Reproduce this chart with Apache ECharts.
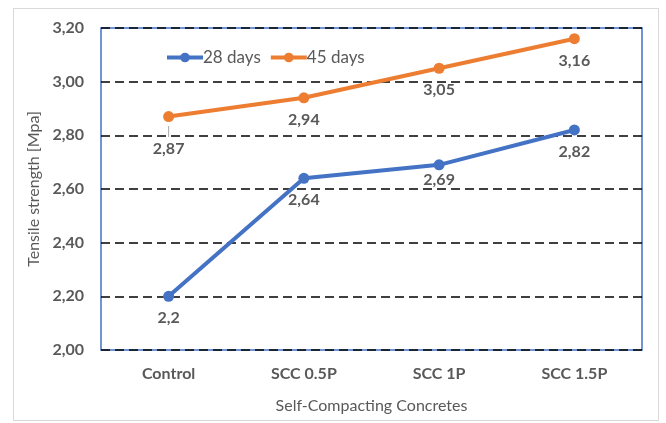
<!DOCTYPE html>
<html>
<head>
<meta charset="utf-8">
<script src="https://cdn.jsdelivr.net/npm/echarts@6/dist/echarts.min.js"></script>
<style>
  html, body { margin: 0; padding: 0; background: #fff; }
  #chart { width: 666px; height: 423px; }
  .frame { position: absolute; left: 13px; top: 8px; width: 646px; height: 413px; border: 1px solid #d9d9d9; box-sizing: border-box; pointer-events: none; }
</style>
</head>
<body>
<div id="chart"></div>
<div class="frame"></div>
<script>
const categories = ['Control', 'SCC 0.5P', 'SCC 1P', 'SCC 1.5P']
const days28 = [2.2, 2.64, 2.69, 2.82]
const days45 = [2.87, 2.94, 3.05, 3.16]
const days28Labels = ['2,2', '2,64', '2,69', '2,82']
const days45Labels = ['2,87', '2,94', '3,05', '3,16']

const font = 'Lato, "Open Sans", sans-serif'
const textColor = '#595959'

const chart = echarts.init(document.getElementById('chart'))

const makeSeries = (name, values, labels, color) => ({
  name,
  type: 'line',
  data: values.map((v, i) => ({
    value: v,
    label: { formatter: labels[i] }
  })),
  symbol: 'circle',
  symbolSize: 11,
  lineStyle: { color, width: 4 },
  itemStyle: { color },
  label: {
    show: true,
    position: 'bottom',
    distance: 8,
    color: textColor,
    fontFamily: font,
    fontWeight: 'bold',
    fontSize: 16,
    lineHeight: 17,
    rich: {
      lead: { width: 1, height: 11, backgroundColor: '#a6a6a6' }
    }
  }
})

const s28 = makeSeries('28 days', days28, days28Labels, '#4472C4')
// Excel tucked this one closer to the point
s28.data[2].label.distance = 1

const s45 = makeSeries('45 days', days45, days45Labels, '#ED7D31')
// first label pushed below the gridline, with a short leader line
s45.data[0].label.distance = 1
s45.data[0].label.formatter = '{lead|}\n' + days45Labels[0]

chart.setOption({
  backgroundColor: '#fff',
  animation: false,
  legend: {
    data: ['28 days', '45 days'],
    left: 160,
    top: 44,
    itemWidth: 36,
    itemHeight: 12,
    itemGap: 8,
    lineStyle: { width: 4 },
    textStyle: { color: textColor, fontFamily: font, fontSize: 17, padding: [0, 0, 0, -5] }
  },
  grid: {
    left: 101,
    right: 24,
    top: 28,
    bottom: 73,
    show: true,
    borderColor: '#4472C4',
    borderWidth: 1.5,
    backgroundColor: 'transparent'
  },
  xAxis: {
    type: 'category',
    data: categories,
    boundaryGap: true,
    name: 'Self-Compacting Concretes',
    nameLocation: 'middle',
    nameGap: 48,
    nameTextStyle: { color: textColor, fontFamily: font, fontSize: 16 },
    axisLine: { show: false },
    axisTick: { show: false },
    axisLabel: { color: textColor, fontFamily: font, fontWeight: 'bold', fontSize: 16, margin: 16 }
  },
  yAxis: {
    type: 'value',
    min: 2.0,
    max: 3.2,
    interval: 0.2,
    name: 'Tensile strength [Mpa]',
    nameLocation: 'middle',
    nameGap: 53,
    nameTextStyle: { color: textColor, fontFamily: font, fontSize: 16 },
    axisLine: { show: false },
    axisTick: { show: false },
    axisLabel: {
      color: textColor,
      fontFamily: font,
      fontWeight: 'bold',
      fontSize: 16,
      margin: 17,
      formatter: v => v.toFixed(2).replace('.', ',')
    },
    splitLine: { lineStyle: { color: '#000', width: 1.5, type: [9, 5] } }
  },
  series: [s28, s45]
})
</script>
</body>
</html>
